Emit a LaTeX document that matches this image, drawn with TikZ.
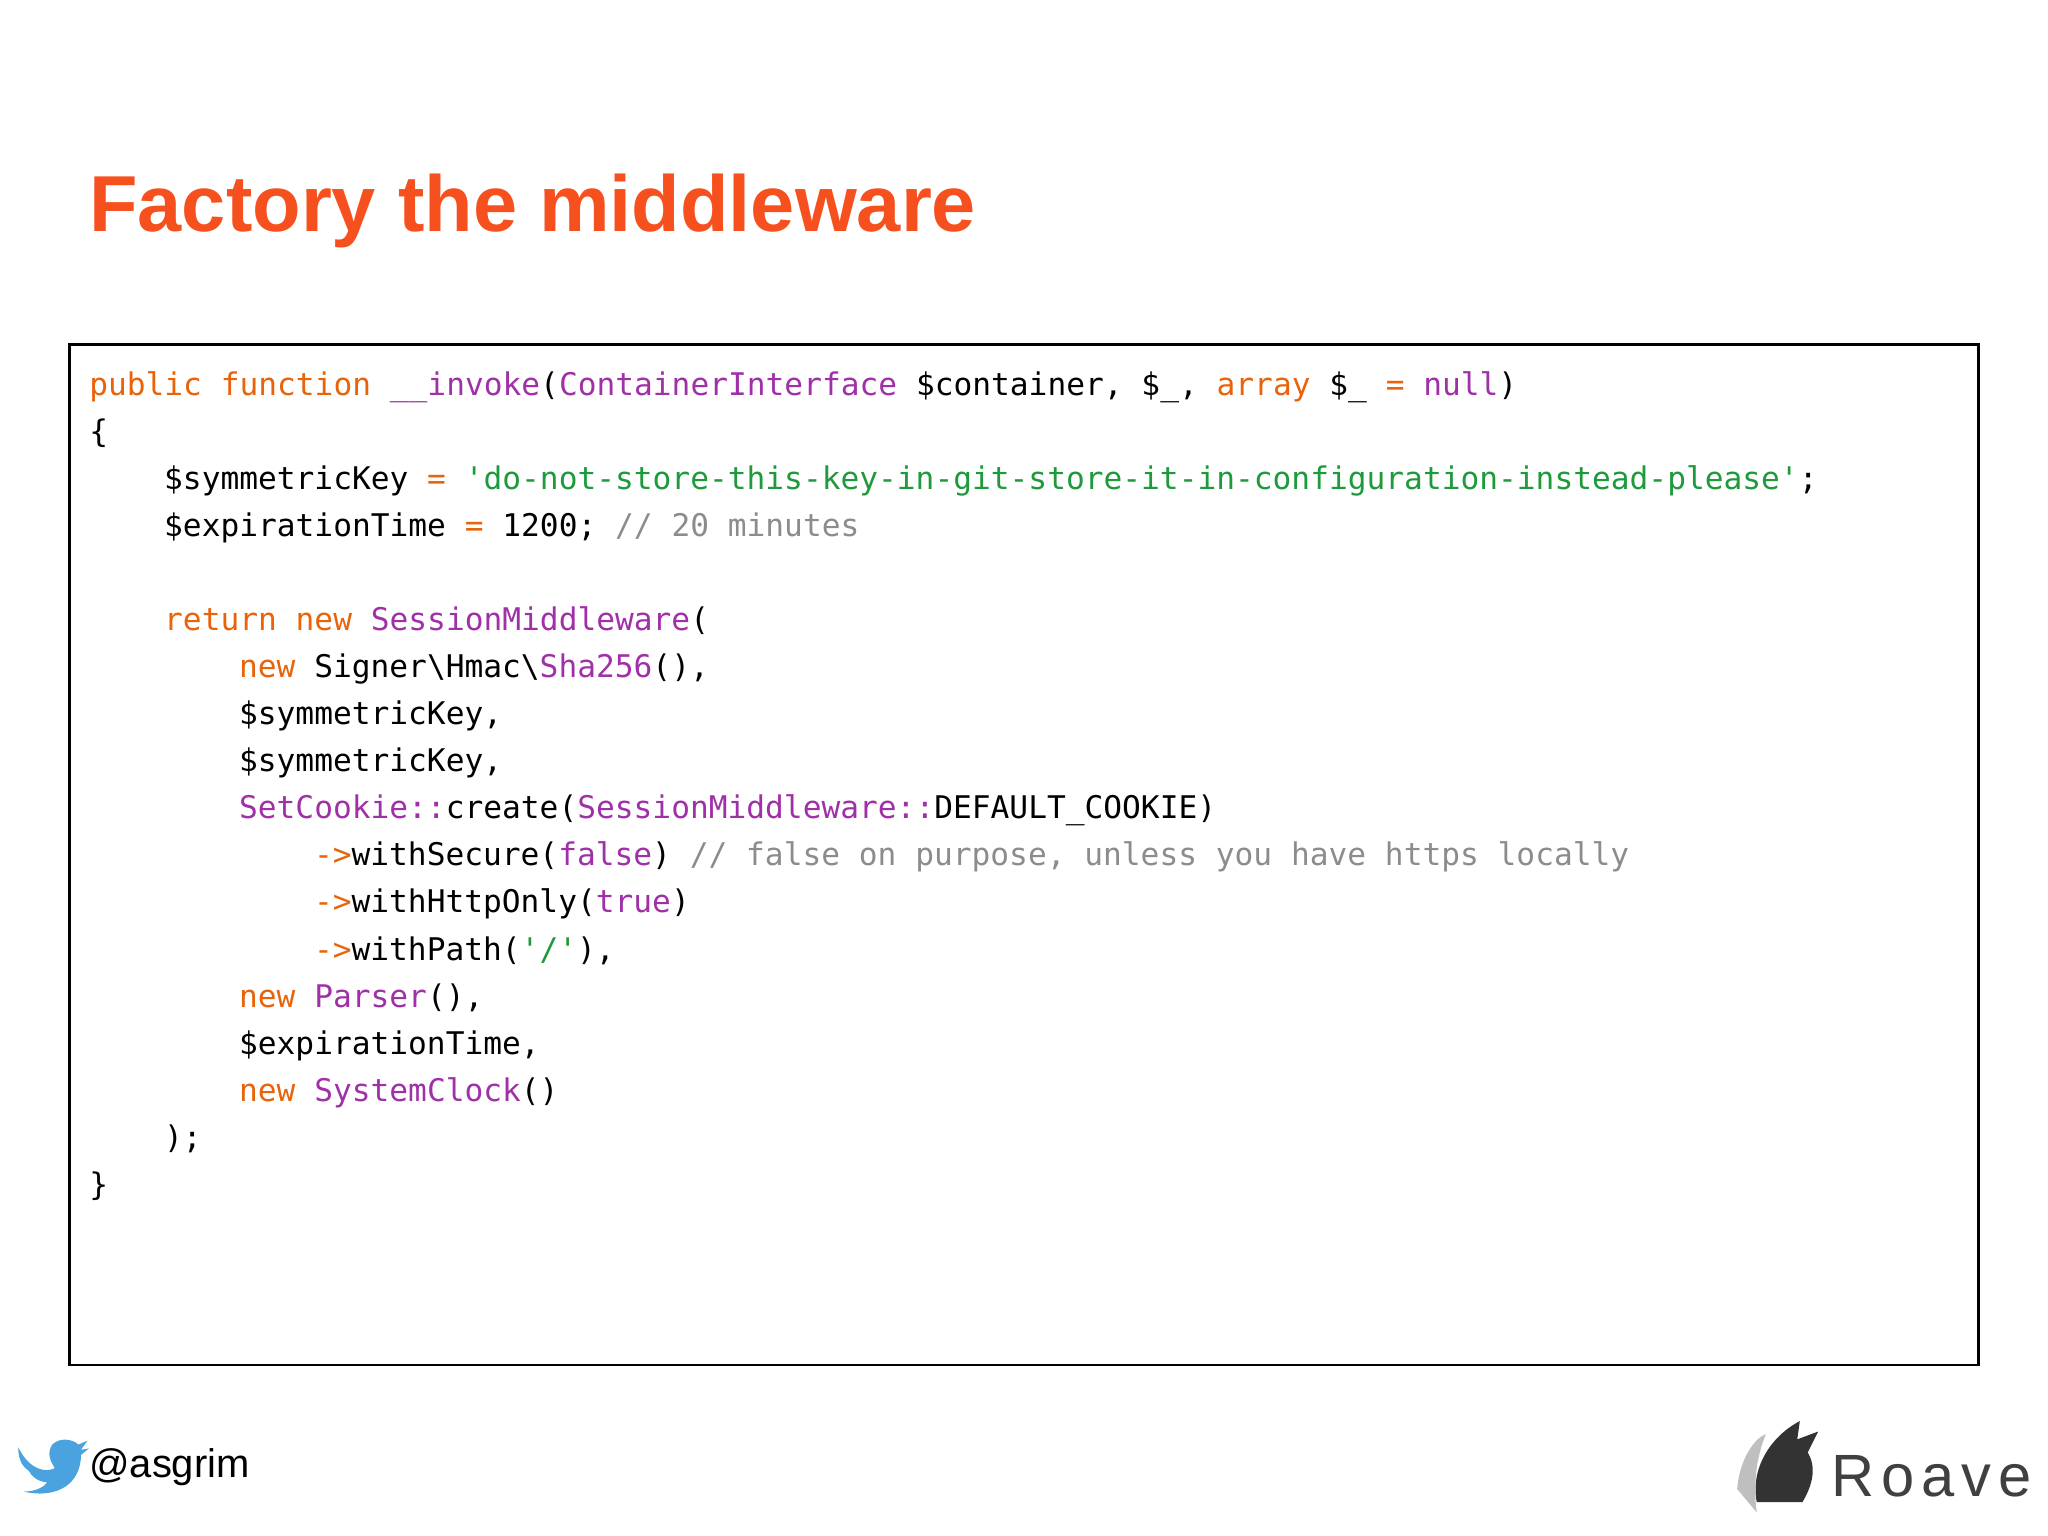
\documentclass[tikz,border=0pt]{standalone}
\usepackage{fontspec}
\setmainfont{Liberation Sans}
\setmonofont{DejaVu Sans Mono}
\definecolor{kw}{HTML}{E8630A}
\definecolor{cl}{HTML}{A030A8}
\definecolor{sg}{HTML}{1E9A3C}
\definecolor{cm}{HTML}{8C8C8C}
\definecolor{ttl}{HTML}{F5501E}
\definecolor{tw}{HTML}{4AA3DF}
\newcommand\kw[1]{\textcolor{kw}{#1}}
\newcommand\cls[1]{\textcolor{cl}{#1}}
\newcommand\cstr[1]{\textcolor{sg}{#1}}
\newcommand\cmt[1]{\textcolor{cm}{#1}}
\begin{document}
\begin{tikzpicture}[x=0.02cm,y=-0.02cm,
  cl/.style={anchor=base west,inner sep=0,font=\ttfamily\fontsize{13.6}{16}\selectfont,text=black}]
\useasboundingbox (0,0) rectangle (1568,1176);
\node[anchor=base west,inner sep=0,text=ttl,font=\bfseries\fontsize{34.6}{42}\selectfont] (title) at (68,177) {Factory the middleware};
\draw[line width=1.2pt] (53,264) rectangle (1515,1045);
\def\cw{14.34}
\foreach \n/\ind/\t in {
 0/0/{\kw{public function} \cls{\_\_invoke}(\cls{ContainerInterface} \$container, \$\_, \kw{array} \$\_ \kw{=} \cls{null})},
 1/0/{\{},
 2/4/{\$symmetricKey \kw{=} \cstr{'do-not-store-this-key-in-git-store-it-in-configuration-instead-please'};},
 3/4/{\$expirationTime \kw{=} 1200; \cmt{// 20 minutes}},
 5/4/{\kw{return new} \cls{SessionMiddleware}(},
 6/8/{\kw{new} Signer\textbackslash Hmac\textbackslash\cls{Sha256}(),},
 7/8/{\$symmetricKey,},
 8/8/{\$symmetricKey,},
 9/8/{\cls{SetCookie::}create(\cls{SessionMiddleware::}DEFAULT\_COOKIE)},
 10/12/{\kw{->}withSecure(\cls{false}) \cmt{// false on purpose, unless you have https locally}},
 11/12/{\kw{->}withHttpOnly(\cls{true})},
 12/12/{\kw{->}withPath(\cstr{'/'}),},
 13/8/{\kw{new} \cls{Parser}(),},
 14/8/{\$expirationTime,},
 15/8/{\kw{new} \cls{SystemClock}()},
 16/4/{);},
 17/0/{\}}}
 {\node[cl] (line\n) at ({68+\ind*\cw},{303+36*\n}) {\t};}
% twitter bird
\fill[tw] (14,1108) .. controls (22,1125) and (35,1128) .. (42,1124)
  .. controls (38,1118) and (36,1112) .. (40,1106)
  .. controls (46,1100) and (56,1102) .. (60,1106)
  -- (67,1103) -- (62,1110) -- (68,1109) -- (62,1114)
  .. controls (62,1135) and (45,1148) .. (18,1142)
  .. controls (28,1142) and (34,1138) .. (36,1135)
  .. controls (28,1134) and (24,1130) .. (22,1126)
  .. controls (16,1122) and (14,1116) .. (14,1108) -- cycle;
\node[anchor=base west,inner sep=0,font=\fontsize{17.4}{21}\selectfont] (handle) at (68,1131) {@asgrim};
% Roave logo
\fill[black!80] (1345,1150) .. controls (1340,1125) and (1355,1100) .. (1378,1088)
  -- (1376,1102) -- (1392,1096) -- (1384,1112) .. controls (1392,1125) and (1386,1140) .. (1380,1150) -- cycle;
\fill[black!25] (1330,1140) .. controls (1332,1115) and (1345,1100) .. (1352,1098)
  .. controls (1345,1115) and (1342,1135) .. (1345,1158) -- cycle;
\node[anchor=base west,inner sep=0,text=black!75,font=\fontsize{26}{30}\selectfont] (roave) at (1402,1146) {R\hspace{3pt}o\hspace{3pt}a\hspace{3pt}v\hspace{3pt}e};
\end{tikzpicture}
\end{document}
